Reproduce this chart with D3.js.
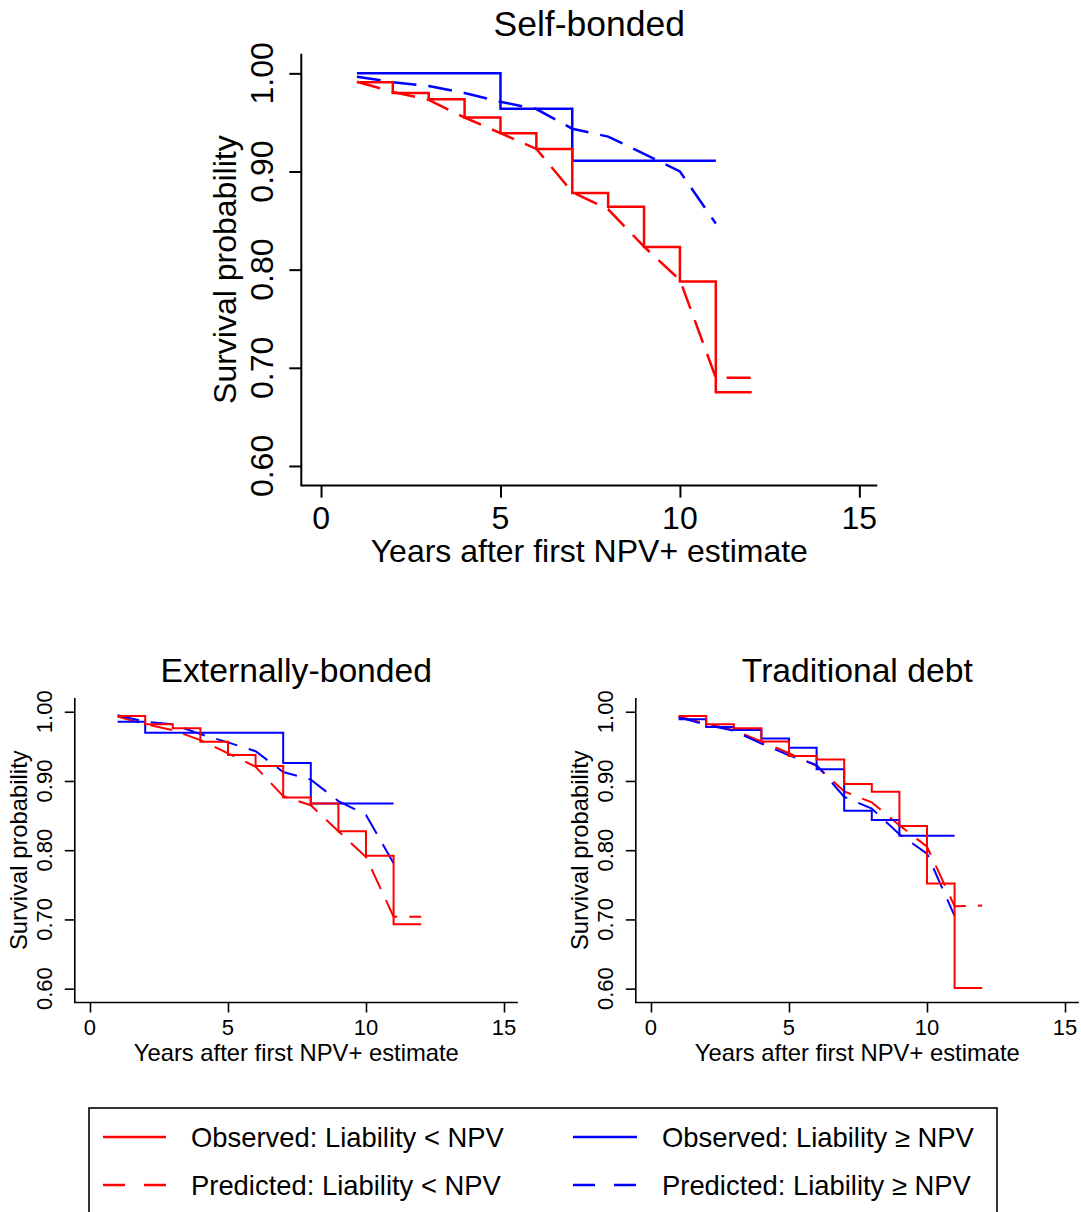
<!DOCTYPE html>
<html><head><meta charset="utf-8">
<script src="https://cdn.jsdelivr.net/npm/d3@7"></script>
<style>
html,body{margin:0;padding:0;background:#fff;}
svg{display:block;font-family:"Liberation Sans",Arial,Helvetica,sans-serif;}
</style></head>
<body>
<svg id="chart" width="1081" height="1212"></svg>
<script>
// ---------- data ----------
const panelTitles = ["Self-bonded", "Externally-bonded", "Traditional debt"];
const xTicks = [0, 5, 10, 15];
const yTicks = [0.60, 0.70, 0.80, 0.90, 1.00];
const xLabel = "Years after first NPV+ estimate";
const yLabel = "Survival probability";
const legendLabels = ["Observed: Liability < NPV", "Observed: Liability \u2265 NPV",
                      "Predicted: Liability < NPV", "Predicted: Liability \u2265 NPV"];

// Self-bonded
const selfObsLowT  = [1,2,3,4,5,6,7,8,9,10,11,12];
const selfObsLowS  = [0.991,0.980,0.9735,0.955,0.939,0.923,0.878,0.864,0.823,0.788,0.675,0.675];
const selfObsHighT = [1,5,7,11];
const selfObsHighS = [1.000,0.964,0.911,0.911];
const selfPredLowT  = [1,2,3,4,5,6,7,8,9,10,11,12];
const selfPredLowS  = [0.9915,0.981,0.973,0.955,0.939,0.923,0.879,0.8615,0.8234,0.7895,0.690,0.690];
const selfPredHighT = [1,2,3,4,5,6,7,8,9,10,11];
const selfPredHighS = [0.9966,0.991,0.987,0.980,0.971,0.9636,0.9436,0.9355,0.918,0.900,0.847];

// Externally-bonded
const extObsLowT  = [1,2,3,4,5,6,7,8,9,10,11,12];
const extObsLowS  = [0.9937,0.982,0.976,0.9566,0.9374,0.9215,0.876,0.8675,0.8275,0.792,0.693,0.693];
const extObsHighT = [1,2,7,8,11];
const extObsHighS = [0.9855,0.9697,0.926,0.8675,0.8675];
const extPredLowT  = [1,2,3,4,5,6,7,8,9,10,11,12];
const extPredLowS  = [0.993,0.982,0.9735,0.959,0.940,0.9205,0.878,0.865,0.8275,0.790,0.704,0.704];
const extPredHighT = [1,2,3,4,5,6,7,8,9,10,11];
const extPredHighS = [0.995,0.9855,0.982,0.9677,0.9557,0.943,0.913,0.902,0.871,0.851,0.781];

// Traditional debt
const tradObsLowT  = [1,2,3,4,5,6,7,8,9,10,11,12];
const tradObsLowS  = [0.994,0.982,0.976,0.957,0.936,0.931,0.8955,0.8844,0.835,0.752,0.601,0.601];
const tradObsHighT = [1,2,3,4,5,6,7,8,9,11];
const tradObsHighS = [0.989,0.978,0.9735,0.9615,0.948,0.917,0.857,0.8435,0.821,0.821];
const tradPredLowT  = [1,2,3,4,5,6,7,8,9,10,11,12];
const tradPredLowS  = [0.993,0.983,0.9735,0.957,0.940,0.922,0.885,0.869,0.836,0.805,0.719,0.720];
const tradPredHighT = [1,2,3,4,5,6,7,8,9,10,11];
const tradPredHighS = [0.992,0.981,0.9725,0.954,0.937,0.923,0.877,0.860,0.823,0.795,0.705];

const RED = "#ff0000", BLUE = "#0000ff";
const xDomain = [-0.55, 15.5];
const yDomain = [0.58, 1.02];

const svg = d3.select("#chart");

function zip(T, S){ return T.map((t,i)=>({t:t, s:S[i]})); }

function drawPanel(o){
  const g = svg.append("g");
  const x = d3.scaleLinear().domain(xDomain).range([o.left, o.right]);
  const y = d3.scaleLinear().domain(yDomain).range([o.bottom, o.top]);

  const xa = g.append("g").attr("transform", `translate(0,${o.bottom})`)
    .call(d3.axisBottom(x).tickValues(xTicks).tickSize(o.tick).tickPadding(0).tickFormat(d3.format("d")));
  const ya = g.append("g").attr("transform", `translate(${o.left},0)`)
    .call(d3.axisLeft(y).tickValues(yTicks).tickSize(o.tick).tickFormat(d3.format(".2f")));
  [xa, ya].forEach(a=>{
    a.select(".domain").remove();
    a.selectAll(".tick line").attr("stroke","#000").attr("stroke-width",o.axisW);
    a.selectAll(".tick text").remove();
  });
  g.append("path")
    .attr("d", `M${o.left},${o.top}V${o.bottom}H${o.right}`)
    .attr("fill","none").attr("stroke","#000").attr("stroke-width",o.axisW);

  g.selectAll(".xtl").data(xTicks).enter().append("text")
    .attr("x", d=>x(d)).attr("y", o.xTickBase)
    .attr("text-anchor","middle").attr("font-size",o.tickFont).attr("fill","#000")
    .text(d=>d);
  g.selectAll(".ytl").data(yTicks).enter().append("text")
    .attr("transform", d=>`translate(${o.yTickBase},${y(d)}) rotate(-90)`)
    .attr("text-anchor","middle").attr("font-size",o.tickFont).attr("fill","#000")
    .text(d=>d3.format(".2f")(d));

  g.append("text").attr("x",(o.left+o.right)/2).attr("y",o.xTitleBase)
    .attr("text-anchor","middle").attr("font-size",o.axisFont).text(xLabel);
  g.append("text").attr("transform",`translate(${o.yTitleBase},${(o.top+o.bottom)/2}) rotate(-90)`)
    .attr("text-anchor","middle").attr("font-size",o.axisFont).text(yLabel);
  g.append("text").attr("x",(o.left+o.right)/2).attr("y",o.titleBase)
    .attr("text-anchor","middle").attr("font-size",o.titleFont).text(o.title);

  const stepLine = d3.line().x(d=>x(d.t)).y(d=>y(d.s)).curve(d3.curveStepAfter);
  const lin = d3.line().x(d=>x(d.t)).y(d=>y(d.s));
  const series = [
    {d:o.predLow, c:RED, dash:true},
    {d:o.predHigh, c:BLUE, dash:true},
    {d:o.obsHigh, c:BLUE, dash:false},
    {d:o.obsLow, c:RED, dash:false}
  ];
  series.forEach(s=>{
    g.append("path").datum(s.d)
      .attr("d", s.dash ? lin : stepLine)
      .attr("fill","none").attr("stroke",s.c).attr("stroke-width",o.lineW)
      .attr("stroke-dasharray", s.dash ? o.dash : null)
      .attr("stroke-linejoin","miter");
  });
}

drawPanel({
  title: panelTitles[0], left:301.3, right:877.3, top:53.7, bottom:485.6,
  tick:12, axisW:2, lineW:2.5, dash:"24,12",
  tickFont:32, axisFont:32, titleFont:35.5,
  xTickBase:529, xTitleBase:562, yTickBase:273, yTitleBase:236, titleBase:36,
  obsLow:zip(selfObsLowT,selfObsLowS), obsHigh:zip(selfObsHighT,selfObsHighS),
  predLow:zip(selfPredLowT,selfPredLowS), predHigh:zip(selfPredHighT,selfPredHighS)
});
drawPanel({
  title: panelTitles[1], left:74.8, right:517.8, top:697.9, bottom:1002.5,
  tick:10, axisW:1.6, lineW:2, dash:"22,12",
  tickFont:22, axisFont:23.8, titleFont:33.7,
  xTickBase:1035, xTitleBase:1061, yTickBase:52, yTitleBase:27, titleBase:682,
  obsLow:zip(extObsLowT,extObsLowS), obsHigh:zip(extObsHighT,extObsHighS),
  predLow:zip(extPredLowT,extPredLowS), predHigh:zip(extPredHighT,extPredHighS)
});
drawPanel({
  title: panelTitles[2], left:635.8, right:1078.8, top:697.9, bottom:1002.5,
  tick:10, axisW:1.6, lineW:2, dash:"22,12",
  tickFont:22, axisFont:23.8, titleFont:33.7,
  xTickBase:1035, xTitleBase:1061, yTickBase:613, yTitleBase:588, titleBase:682,
  obsLow:zip(tradObsLowT,tradObsLowS), obsHigh:zip(tradObsHighT,tradObsHighS),
  predLow:zip(tradPredLowT,tradPredLowS), predHigh:zip(tradPredHighT,tradPredHighS)
});

// ---------- legend ----------
const lg = svg.append("g");
lg.append("rect").attr("x",89).attr("y",1108).attr("width",908).attr("height",130)
  .attr("fill","none").attr("stroke","#000").attr("stroke-width",1.6);
const legendItems = [
  {label:legendLabels[0], c:RED,  dash:false, col:0, row:0},
  {label:legendLabels[1], c:BLUE, dash:false, col:1, row:0},
  {label:legendLabels[2], c:RED,  dash:true,  col:0, row:1},
  {label:legendLabels[3], c:BLUE, dash:true,  col:1, row:1}
];
const colX = [[103,166,191],[573,637,662]];
const rowY = [1137, 1185];
legendItems.forEach(it=>{
  const cx = colX[it.col], ry = rowY[it.row];
  lg.append("line").attr("x1",cx[0]).attr("x2",cx[1]).attr("y1",ry).attr("y2",ry)
    .attr("stroke",it.c).attr("stroke-width",2.4)
    .attr("stroke-dasharray", it.dash ? "22,19" : null);
  lg.append("text").attr("x",cx[2]).attr("y",ry+10).attr("font-size",27.4).attr("fill","#000")
    .text(it.label);
});
</script>
</body></html>
